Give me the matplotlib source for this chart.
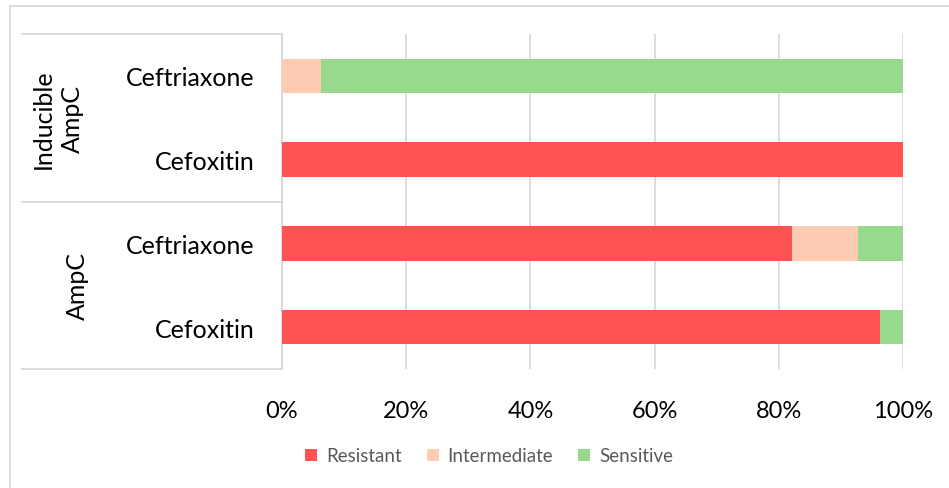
import matplotlib.pyplot as plt
from matplotlib.patches import Rectangle
from matplotlib.ticker import PercentFormatter

groups = ['Inducible\nAmpC', 'AmpC']
drugs = ['Ceftriaxone', 'Cefoxitin', 'Ceftriaxone', 'Cefoxitin']
resistant = [0.0, 100.0, 82.1, 96.3]
intermediate = [6.2, 0.0, 10.7, 0.0]
sensitive = [93.8, 0.0, 7.2, 3.7]

colors = {'Resistant': '#FF5252', 'Intermediate': '#FDCCB2', 'Sensitive': '#99D98E'}
grid_col = '#D9D9D9'

plt.rcParams['font.family'] = ['Lato', 'DejaVu Sans']

fig = plt.figure(figsize=(9.49, 4.89), dpi=100)
ax = fig.add_axes([282 / 949, 1 - 370 / 489, 621 / 949, 335 / 489])

y = list(range(len(drugs)))
h = 0.41
left = [0.0] * len(drugs)
for name, vals in [('Resistant', resistant), ('Intermediate', intermediate), ('Sensitive', sensitive)]:
    ax.barh(y, vals, height=h, left=left, color=colors[name], label=name, zorder=3)
    left = [a + b for a, b in zip(left, vals)]

ax.set_xlim(0, 100)
ax.set_ylim(3.5, -0.5)
ax.set_xticks([0, 20, 40, 60, 80, 100])
ax.xaxis.set_major_formatter(PercentFormatter(decimals=0))
ax.set_yticks(y)
ax.set_yticklabels(drugs)
ax.tick_params(axis='y', length=0, pad=20, labelsize=18)
ax.tick_params(axis='x', length=0, pad=22, labelsize=17)
ax.grid(axis='x', color=grid_col, linewidth=1.3, zorder=0)
for s in ['top', 'right', 'bottom']:
    ax.spines[s].set_visible(False)
ax.spines['left'].set_color(grid_col)
ax.spines['left'].set_linewidth(1.3)

# group separators and labels
tr = ax.get_yaxis_transform()
x0 = (22 - 282) / 621
for yy in [-0.5, 1.5, 3.5]:
    ax.plot([x0, 0], [yy, yy], color=grid_col, lw=1.3, transform=tr, clip_on=False)
ax.text((58 - 282) / 621, 0.5, groups[0], rotation=90, ha='center', va='center',
        fontsize=18, transform=tr, linespacing=1.35)
ax.text((77 - 282) / 621, 2.5, groups[1], rotation=90, ha='center', va='center',
        fontsize=18, transform=tr)

# outer frame
fig.patches.append(Rectangle((10 / 949, -0.1), 1.1, 1.1 - 7 / 489, transform=fig.transFigure,
                             fill=False, edgecolor=grid_col, lw=1.3))

leg = fig.legend(loc='center', bbox_to_anchor=(489 / 949, 1 - 457 / 489), ncol=3, frameon=False,
                 fontsize=13.5, handlelength=0.65, handleheight=0.65, handletextpad=0.45,
                 columnspacing=1.35, labelcolor='#595959')

fig.savefig('out.png', dpi=100)
